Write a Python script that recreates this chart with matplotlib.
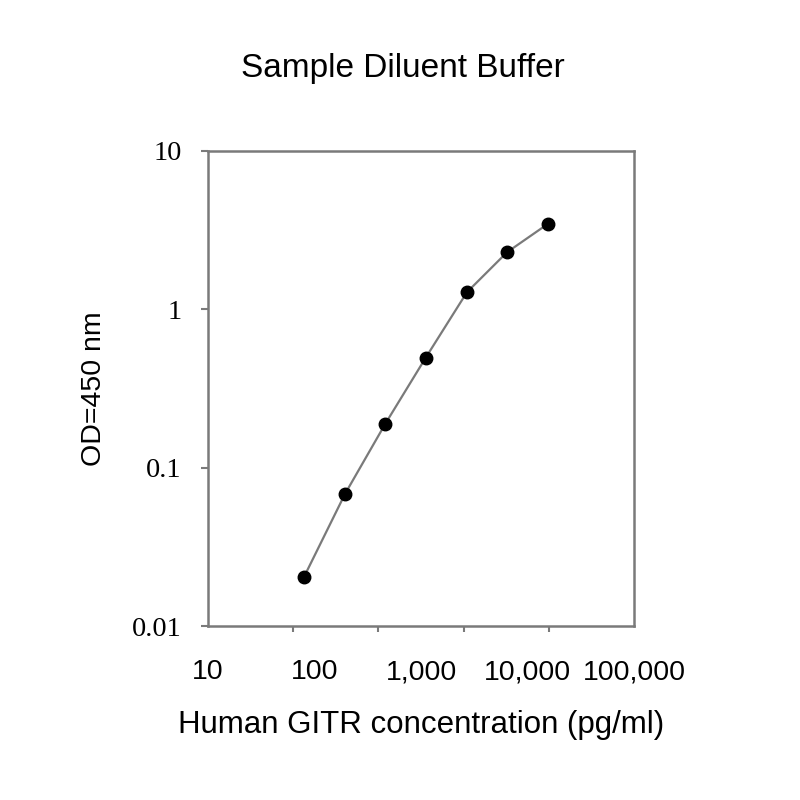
import numpy as np
import matplotlib
matplotlib.use("Agg")
import matplotlib.pyplot as plt
from matplotlib.ticker import FixedLocator, NullFormatter

# standard curve
conc = [80, 193, 460, 1107, 2700, 6430, 15570]
od = [0.0205, 0.068, 0.188, 0.494, 1.28, 2.29, 3.46]

x_ticks = [10, 100, 1000, 10000, 100000]
x_labels = ["10", "100", "1,000", "10,000", "100,000"]
y_ticks = [0.01, 0.1, 1, 10]
y_labels = ["0.01", "0.1", "1", "10"]

sans = "Liberation Sans"
serif = "Liberation Serif"
grey = "#7a7a7a"

fig = plt.figure(figsize=(8, 8), dpi=100)
ax = fig.add_axes([0.26, 0.2175, 0.5325, 0.594])

ax.plot(conc, od, color=grey, lw=1.6, zorder=2)
ax.plot(conc, od, "o", color="black", ms=9, zorder=3)

ax.set_xscale("log")
ax.set_yscale("log")
ax.set_xlim(10, 100000)
ax.set_ylim(0.01, 10)

for s in ax.spines.values():
    s.set_color(grey)
    s.set_linewidth(1.8)

# x labels at decades, tick marks at the original's even spacing
ax.xaxis.set_major_locator(FixedLocator(x_ticks))
ax.set_xticklabels(x_labels, fontfamily=sans, fontsize=20.5)
ax.tick_params(axis="x", which="major", length=0, pad=24)
ax.xaxis.set_minor_locator(FixedLocator(list(10 ** np.linspace(1, 5, 6))))
ax.xaxis.set_minor_formatter(NullFormatter())
ax.tick_params(axis="x", which="minor", length=4, width=1.5, color=grey)

ax.yaxis.set_major_locator(FixedLocator(y_ticks))
ax.set_yticklabels(y_labels, fontfamily=serif, fontsize=20.5)
ax.yaxis.set_minor_locator(FixedLocator([]))
ax.tick_params(axis="y", which="major", length=5, width=1.5, color=grey, pad=14)

ax.set_xlabel("Human GITR concentration (pg/ml)", fontfamily=sans, fontsize=22.5, labelpad=18)
ax.set_ylabel("OD=450 nm", fontfamily=sans, fontsize=20.5, labelpad=18)
fig.text(0.504, 0.915, "Sample Diluent Buffer", ha="center", va="center",
         fontfamily=sans, fontsize=24)

fig.savefig("out.png", dpi=100)
